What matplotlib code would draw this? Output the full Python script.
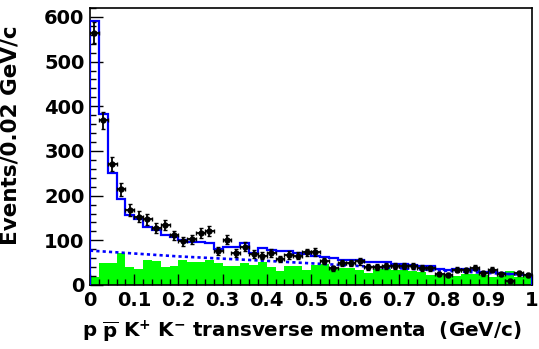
import numpy as np
import matplotlib
matplotlib.use("Agg")
import matplotlib.pyplot as plt
from matplotlib.ticker import MultipleLocator, FixedLocator

plt.rcParams['font.family'] = ['DejaVu Sans']
plt.rcParams['mathtext.fontset'] = 'dejavusans'

# ---- data (bins of 0.02 GeV/c from 0 to 1) ----
bin_edges = np.linspace(0.0, 1.0, 51)

data_counts = [565, 369, 271, 214, 168, 153, 147, 127, 134, 111,
               98, 102, 116, 121, 77, 101, 72, 86, 69, 66,
               72, 58, 67, 66, 73, 74, 54, 37, 50, 50,
               53, 41, 41, 42, 43, 43, 42, 38, 37, 25,
               22, 34, 33, 39, 26, 34, 25, 10, 26, 22]

fit_total = [591, 383, 250, 192, 157, 147, 129, 123, 112, 107,
             100, 97, 96, 93, 81, 86, 84, 93, 72, 82,
             78, 77, 75, 72, 69, 64, 62, 60, 57, 57,
             56, 52, 52, 52, 46, 46, 45, 43, 43, 36,
             34, 35, 35, 34, 28, 28, 27, 25, 25, 22]

green_hist = [19, 50, 50, 71, 40, 35, 56, 53, 40, 43,
              56, 52, 52, 56, 49, 43, 43, 49, 45, 52,
              40, 32, 43, 43, 34, 45, 46, 35, 37, 37,
              34, 26, 36, 36, 33, 33, 31, 30, 22, 22,
              20, 20, 24, 24, 22, 17, 20, 32, 19, 23]

bkg_x = [0.0, 0.2, 0.4, 0.6, 0.8, 1.0]
bkg_y = [77, 64, 54, 43, 32, 22]

x_tick_vals = [0, 0.1, 0.2, 0.3, 0.4, 0.5, 0.6, 0.7, 0.8, 0.9, 1.0]
x_tick_labels = ["0", "0.1", "0.2", "0.3", "0.4", "0.5", "0.6", "0.7", "0.8", "0.9", "1"]

# ---- figure ----
fig = plt.figure(figsize=(5.39, 3.49), dpi=100)
ax = fig.add_axes([90/539, 1-285/349, (532-90)/539, (285-8)/349])

centers = 0.5 * (bin_edges[:-1] + bin_edges[1:])
halfw = 0.5 * np.diff(bin_edges)
counts = np.array(data_counts, dtype=float)

ax.stairs(green_hist, bin_edges, fill=True, color='#00ff00', linewidth=0, zorder=1)
ax.stairs(fit_total, bin_edges, baseline=0, color='#0000ff', linewidth=1.6, zorder=3)
ax.plot(bkg_x, bkg_y, linestyle=(0, (1.2, 1.2)), color='#0000ff', linewidth=1.9, zorder=3)
ax.errorbar(centers, counts, yerr=np.sqrt(counts), xerr=halfw, fmt='o',
            color='black', markersize=3.5, elinewidth=1.3, capsize=1.5,
            capthick=1.0, zorder=4)

ax.set_xlim(0, 1)
ax.set_ylim(0, 620)

ax.xaxis.set_major_locator(FixedLocator(x_tick_vals))
ax.set_xticklabels(x_tick_labels)
ax.xaxis.set_minor_locator(MultipleLocator(0.02))
ax.yaxis.set_major_locator(MultipleLocator(100))
ax.yaxis.set_minor_locator(MultipleLocator(20))

ax.tick_params(axis='both', which='both', direction='in', top=False, right=False,
               labelsize=14, width=1.0)
ax.tick_params(axis='y', which='major', length=9.5, pad=4)
ax.tick_params(axis='y', which='minor', length=4.5)
ax.tick_params(axis='x', which='major', length=8, pad=4)
ax.tick_params(axis='x', which='minor', length=4)
for lab in ax.get_xticklabels() + ax.get_yticklabels():
    lab.set_fontweight('bold')

for s in ax.spines.values():
    s.set_linewidth(1.2)
    s.set_color('black')

ax.set_ylabel("Events/0.02 GeV/c", fontsize=15.5, fontweight='bold')
ax.yaxis.set_label_coords(-0.158, 0.54)
ax.set_xlabel(r"$\mathbf{p\ \overline{p}\ K^{+}\ K^{-}}$ transverse momenta  (GeV/c)",
              fontsize=14.3, fontweight='bold')
ax.xaxis.set_label_coords(0.48, -0.12)

fig.savefig("out.png", dpi=100)
